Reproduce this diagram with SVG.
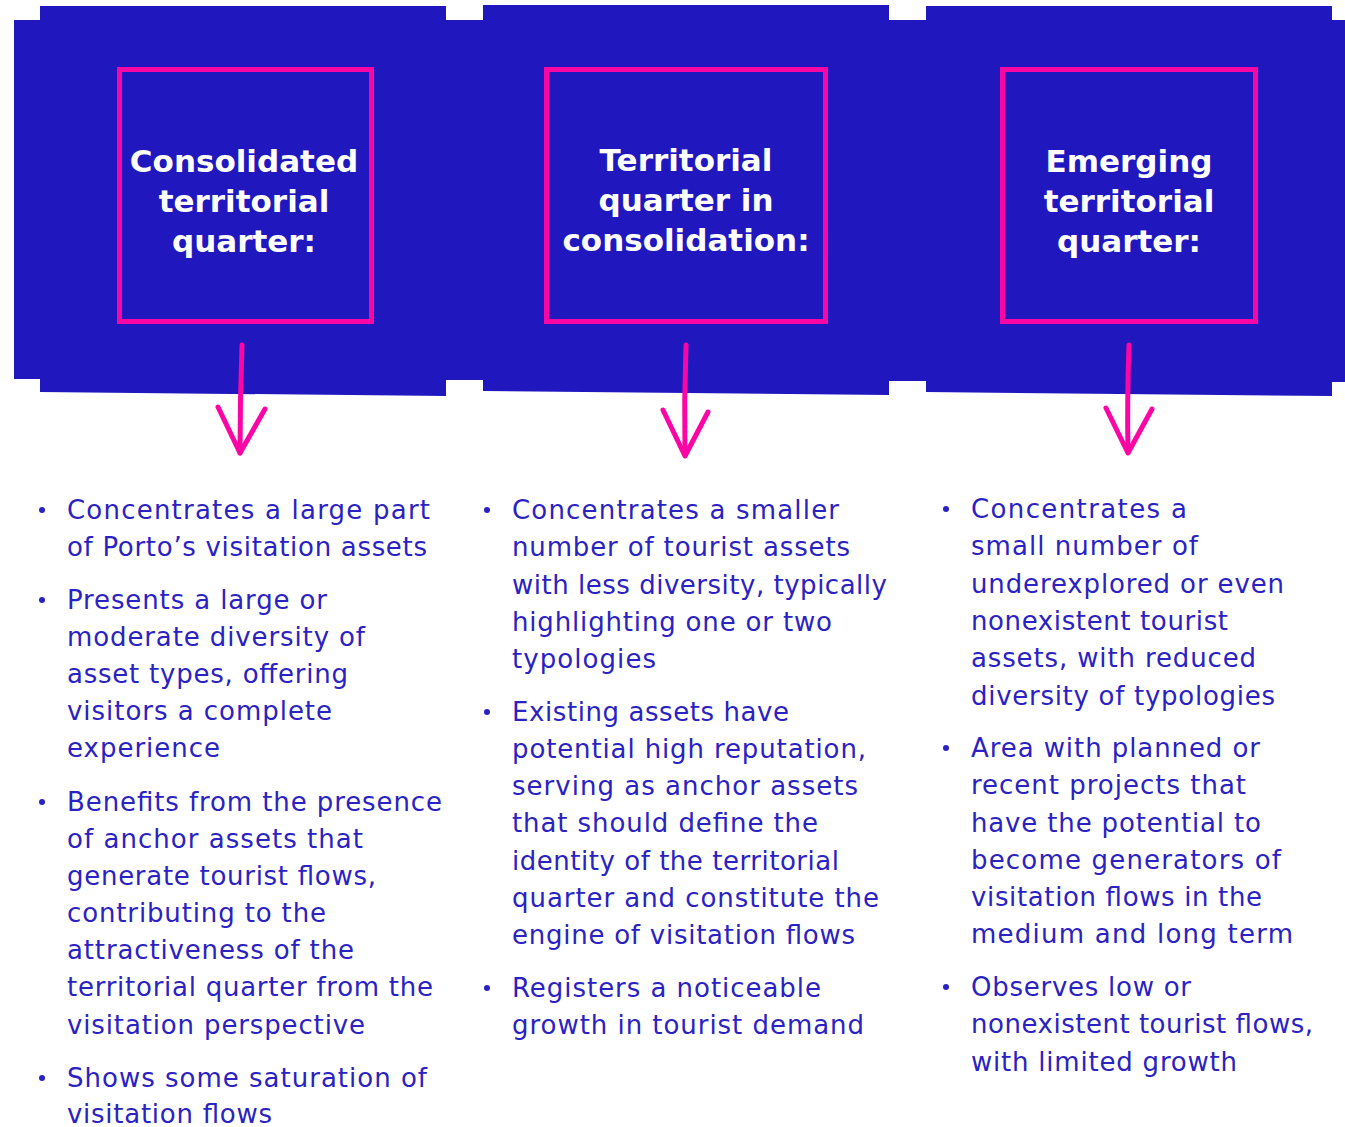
<svg xmlns="http://www.w3.org/2000/svg" width="1345" height="1127" viewBox="0 0 1345 1127">
  <style>
    .panel { fill: #2018be; }
    .frame { fill: none; stroke: #fb05a4; stroke-width: 5; }
    .title { font-family: "DejaVu Sans", "Liberation Sans", sans-serif; font-weight: bold; font-size: 31px; fill: #ffffff; text-anchor: middle; }
    .body { font-family: "DejaVu Sans", "Liberation Sans", sans-serif; font-size: 26px; fill: #2a22c2; }
    .dot { fill: #2a22c2; }
    .arrow { fill: none; stroke: #fb05a4; stroke-width: 5; stroke-linecap: round; stroke-linejoin: round; }
  </style>

  <rect width="1345" height="1127" fill="#ffffff"/>

  <!-- Header panels -->
  <g id="node-consolidated">
    <path class="panel" d="M14,20 H40 V6 H446 V20 H465 V380 H446 V396 L40,392 V379 H14 Z"/>
    <rect class="frame" x="119.5" y="69.5" width="252" height="252"/>
    <text class="title" x="244" y="172">Consolidated</text>
    <text class="title" x="244" y="212">territorial</text>
    <text class="title" x="244" y="252">quarter:</text>
  </g>

  <g id="node-in-consolidation">
    <path class="panel" d="M464,20 H483 V5 H889 V20 H908 V381 H889 V395 L483,391 V380 H464 Z"/>
    <rect class="frame" x="546.5" y="69.5" width="279" height="252"/>
    <text class="title" x="686" y="171">Territorial</text>
    <text class="title" x="686" y="211">quarter in</text>
    <text class="title" x="686" y="251">consolidation:</text>
  </g>

  <g id="node-emerging">
    <path class="panel" d="M907,20 H926 V6 H1332 V20 H1345 V382 H1332 V396 L926,392 V381 H907 Z"/>
    <rect class="frame" x="1002.5" y="69.5" width="253" height="252"/>
    <text class="title" x="1129" y="172">Emerging</text>
    <text class="title" x="1129" y="212">territorial</text>
    <text class="title" x="1129" y="252">quarter:</text>
  </g>

  <!-- Downward arrows -->
  <g id="connectors">
    <path class="arrow" d="M242,345 Q240,400 240,453"/>
    <path class="arrow" d="M218,407 L240,453 L265,409"/>
    <path class="arrow" d="M686,345 Q684,400 685,455"/>
    <path class="arrow" d="M663,410 L685,456 L708,412"/>
    <path class="arrow" d="M1129,345 Q1127,400 1128,452"/>
    <path class="arrow" d="M1106,408 L1128,453 L1152,409"/>
  </g>

  <!-- Characteristics: consolidated -->
  <g id="list-consolidated">
    <circle class="dot" cx="42" cy="510" r="3"/>
    <text class="body" x="67" y="519" textLength="363" lengthAdjust="spacing">Concentrates a large part</text>
    <text class="body" x="67" y="556" textLength="360" lengthAdjust="spacing">of Porto’s visitation assets</text>
    <circle class="dot" cx="42" cy="600" r="3"/>
    <text class="body" x="67" y="609" textLength="260" lengthAdjust="spacing">Presents a large or</text>
    <text class="body" x="67" y="646" textLength="298" lengthAdjust="spacing">moderate diversity of</text>
    <text class="body" x="67" y="683" textLength="281" lengthAdjust="spacing">asset types, offering</text>
    <text class="body" x="67" y="720" textLength="265" lengthAdjust="spacing">visitors a complete</text>
    <text class="body" x="67" y="757" textLength="153" lengthAdjust="spacing">experience</text>
    <circle class="dot" cx="42" cy="802" r="3"/>
    <text class="body" x="67" y="811" textLength="375" lengthAdjust="spacing">Benefits from the presence</text>
    <text class="body" x="67" y="848" textLength="296" lengthAdjust="spacing">of anchor assets that</text>
    <text class="body" x="67" y="885" textLength="309" lengthAdjust="spacing">generate tourist flows,</text>
    <text class="body" x="67" y="922" textLength="259" lengthAdjust="spacing">contributing to the</text>
    <text class="body" x="67" y="959" textLength="287" lengthAdjust="spacing">attractiveness of the</text>
    <text class="body" x="67" y="996" textLength="366" lengthAdjust="spacing">territorial quarter from the</text>
    <text class="body" x="67" y="1034" textLength="298" lengthAdjust="spacing">visitation perspective</text>
    <circle class="dot" cx="42" cy="1078" r="3"/>
    <text class="body" x="67" y="1087" textLength="360" lengthAdjust="spacing">Shows some saturation of</text>
    <text class="body" x="67" y="1123" textLength="205" lengthAdjust="spacing">visitation flows</text>
  </g>

  <!-- Characteristics: in consolidation -->
  <g id="list-in-consolidation">
    <circle class="dot" cx="487" cy="510" r="3"/>
    <text class="body" x="512" y="519" textLength="327" lengthAdjust="spacing">Concentrates a smaller</text>
    <text class="body" x="512" y="556" textLength="338" lengthAdjust="spacing">number of tourist assets</text>
    <text class="body" x="512" y="594" textLength="375" lengthAdjust="spacing">with less diversity, typically</text>
    <text class="body" x="512" y="631" textLength="320" lengthAdjust="spacing">highlighting one or two</text>
    <text class="body" x="512" y="668" textLength="144" lengthAdjust="spacing">typologies</text>
    <circle class="dot" cx="487" cy="712" r="3"/>
    <text class="body" x="512" y="721" textLength="277" lengthAdjust="spacing">Existing assets have</text>
    <text class="body" x="512" y="758" textLength="354" lengthAdjust="spacing">potential high reputation,</text>
    <text class="body" x="512" y="795" textLength="346" lengthAdjust="spacing">serving as anchor assets</text>
    <text class="body" x="512" y="832" textLength="306" lengthAdjust="spacing">that should define the</text>
    <text class="body" x="512" y="870" textLength="327" lengthAdjust="spacing">identity of the territorial</text>
    <text class="body" x="512" y="907" textLength="367" lengthAdjust="spacing">quarter and constitute the</text>
    <text class="body" x="512" y="944" textLength="343" lengthAdjust="spacing">engine of visitation flows</text>
    <circle class="dot" cx="487" cy="988" r="3"/>
    <text class="body" x="512" y="997" textLength="309" lengthAdjust="spacing">Registers a noticeable</text>
    <text class="body" x="512" y="1034" textLength="352" lengthAdjust="spacing">growth in tourist demand</text>
  </g>

  <!-- Characteristics: emerging -->
  <g id="list-emerging">
    <circle class="dot" cx="946" cy="509" r="3"/>
    <text class="body" x="971" y="518" textLength="216" lengthAdjust="spacing">Concentrates a</text>
    <text class="body" x="971" y="555" textLength="227" lengthAdjust="spacing">small number of</text>
    <text class="body" x="971" y="593" textLength="313" lengthAdjust="spacing">underexplored or even</text>
    <text class="body" x="971" y="630" textLength="257" lengthAdjust="spacing">nonexistent tourist</text>
    <text class="body" x="971" y="667" textLength="285" lengthAdjust="spacing">assets, with reduced</text>
    <text class="body" x="971" y="705" textLength="304" lengthAdjust="spacing">diversity of typologies</text>
    <circle class="dot" cx="946" cy="748" r="3"/>
    <text class="body" x="971" y="757" textLength="289" lengthAdjust="spacing">Area with planned or</text>
    <text class="body" x="971" y="794" textLength="275" lengthAdjust="spacing">recent projects that</text>
    <text class="body" x="971" y="832" textLength="290" lengthAdjust="spacing">have the potential to</text>
    <text class="body" x="971" y="869" textLength="310" lengthAdjust="spacing">become generators of</text>
    <text class="body" x="971" y="906" textLength="291" lengthAdjust="spacing">visitation flows in the</text>
    <text class="body" x="971" y="943" textLength="322" lengthAdjust="spacing">medium and long term</text>
    <circle class="dot" cx="946" cy="987" r="3"/>
    <text class="body" x="971" y="996" textLength="220" lengthAdjust="spacing">Observes low or</text>
    <text class="body" x="971" y="1033" textLength="342" lengthAdjust="spacing">nonexistent tourist flows,</text>
    <text class="body" x="971" y="1071" textLength="266" lengthAdjust="spacing">with limited growth</text>
  </g>
</svg>
